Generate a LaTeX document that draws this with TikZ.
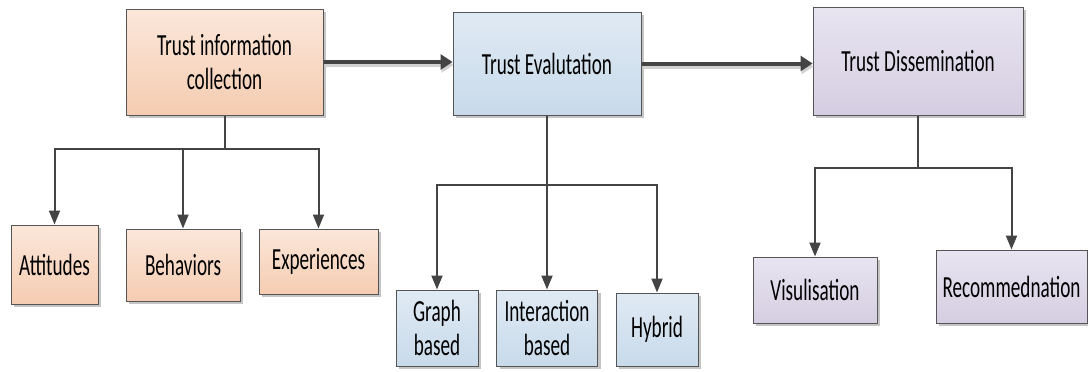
\documentclass[tikz,border=0pt]{standalone}
\usepackage{fontspec}
\newfontfamily\boxfont[FakeStretch=0.625]{Carlito}
\usetikzlibrary{positioning}
\usetikzlibrary{arrows.meta}
\usetikzlibrary{shadows}

\definecolor{orTop}{HTML}{FBE7DA}
\definecolor{orBot}{HTML}{F5CCB1}
\definecolor{blTop}{HTML}{E0EAF4}
\definecolor{blBot}{HTML}{C8DAEA}
\definecolor{viTop}{HTML}{E8E4F0}
\definecolor{viBot}{HTML}{D5CEE2}
\definecolor{boxline}{HTML}{555555}
\definecolor{linegray}{HTML}{444444}

\begin{document}
\begin{tikzpicture}[x=1pt,y=-1pt]
\tikzset{box/.style={rectangle, draw=boxline, line width=1pt, align=center, inner sep=0pt,
    font=\boxfont\fontsize{30.7pt}{34pt}\selectfont,
    drop shadow={shadow xshift=3pt, shadow yshift=-3pt, fill=black!45, opacity=0.5}},
  orbox/.style={box, top color=orTop, bottom color=orBot},
  bluebox/.style={box, top color=blTop, bottom color=blBot},
  violetbox/.style={box, top color=viTop, bottom color=viBot},
  link/.style={draw=linegray, line width=2pt, -{Triangle[length=14pt,width=11pt]}},
  flow/.style={draw=linegray, line width=4pt, -{Triangle[length=12pt,width=15pt]},
    preaction={draw=black!18, line width=4pt, -{Triangle[length=12pt,width=15pt]},
      transform canvas={xshift=1pt,yshift=-3pt}}}}
\useasboundingbox (0,0) rectangle (1088,372);

% main stages
\node[orbox, minimum width=197pt, minimum height=106pt] (coll) at (224.5,62) {Trust information\\collection};
\node[bluebox, minimum width=188pt, minimum height=103pt] (eval) at (547,63.5) {Trust Evalutation};
\node[violetbox, minimum width=210pt, minimum height=108pt] (diss) at (918,61) {Trust Dissemination};

% sub items
\node[orbox, minimum width=87pt, minimum height=79pt] (att) at (54.5,264.5) {Attitudes};
\node[orbox, minimum width=114pt, minimum height=72pt] (beh) at (183,265) {Behaviors};
\node[orbox, minimum width=119pt, minimum height=65pt] (exp) at (318.5,261.5) {Experiences};
\node[bluebox, minimum width=82pt, minimum height=76pt] (graph) at (437,328) {Graph\\based};
\node[bluebox, minimum width=101pt, minimum height=76pt] (inter) at (547,328) {Interaction\\based};
\node[bluebox, minimum width=82pt, minimum height=73pt] (hyb) at (657,329.5) {Hybrid};
\node[violetbox, minimum width=124pt, minimum height=66pt] (vis) at (815,290) {Visulisation};
\node[violetbox, minimum width=151pt, minimum height=73pt] (rec) at (1011.5,286.5) {Recommednation};

\draw[flow] (coll.east) -- (coll.east -| eval.west);
\draw[flow] (eval.east) -- (eval.east -| diss.west);

\foreach \c in {att,beh,exp} {
\draw[link] (coll.south) -- ++(0,33) -| (\c.north);
}
\foreach \c in {graph,inter,hyb} {
\draw[link] (eval.south) -- ++(0,69) -| (\c.north);
}
\foreach \c in {vis,rec} {
\draw[link] (diss.south) -- ++(0,52) -| (\c.north);
}

\end{tikzpicture}
\end{document}
